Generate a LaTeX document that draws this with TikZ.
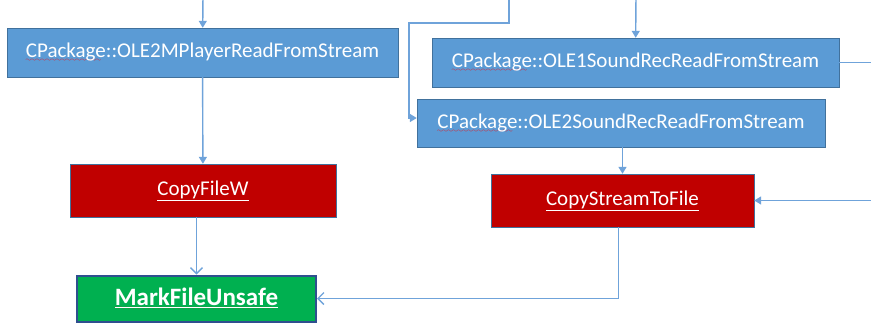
\documentclass[tikz,border=0pt]{standalone}
\usepackage{fontspec}
\setmainfont{Carlito}
\usepackage{tikz}
\usetikzlibrary{arrows.meta}

\definecolor{boxblue}{HTML}{5B9BD5}
\definecolor{edgeblue}{HTML}{41719C}
\definecolor{boxred}{HTML}{C00000}
\definecolor{boxgreen}{HTML}{00B050}
\definecolor{darkedge}{HTML}{2F4F8F}
\definecolor{linkline}{HTML}{6FA3DA}

\font\squigfont=lasy6
\newcommand\spellwave[1]{\setbox0\hbox{#1}\rlap{\lower4pt\hbox to\wd0{\color{red}\leaders\hbox{\squigfont\char58}\hfill}}\box0}

\tikzset{
    func/.style={rectangle, draw=edgeblue, fill=boxblue, text=white, font=\fontsize{21}{24}\selectfont, inner sep=0pt},
    hot/.style={rectangle, draw=edgeblue, fill=boxred, text=white, font=\fontsize{21}{24}\selectfont, inner sep=0pt},
    flow/.style={draw=linkline, line width=1.4pt, -{Triangle[length=7pt, width=8pt]}},
    flowopen/.style={draw=linkline, line width=1.4pt, -{Straight Barb[length=6pt, width=12pt]}}
}

\begin{document}
\begin{tikzpicture}[x=1pt, y=-1pt]
    \useasboundingbox (0, 0) rectangle (871, 325);
    \node[func, minimum width=391pt, minimum height=49pt] (mplayer) at (202.5, 52.5) {\spellwave{CPackage}::OLE2MPlayerReadFromStream};
    \node[func, minimum width=407pt, minimum height=49pt] (snd1) at (635.5, 62.5) {\spellwave{CPackage}::OLE1SoundRecReadFromStream};
    \node[func, minimum width=408pt, minimum height=48pt] (snd2) at (621, 123) {\spellwave{CPackage}::OLE2SoundRecReadFromStream};
    \node[hot, minimum width=266pt, minimum height=53pt] (copyw) at (203, 190.5) {\underline{CopyFileW}};
    \node[hot, minimum width=263pt, minimum height=53pt] (copys) at (622.5, 200.5) {\underline{CopyStreamToFile}};
    \node[rectangle, draw=darkedge, line width=2pt, fill=boxgreen, text=white, inner sep=0pt,
          minimum width=239pt, minimum height=46pt, font=\fontsize{25}{28}\selectfont\bfseries]
          (unsafe) at (196.5, 298.5) {\spellwave{\underline{MarkFileUnsafe}}};

    % free ends above the picture
    \coordinate (inA) at (203, -5);
    \coordinate (inB) at (636, -5);
    \coordinate (inC) at (509, -5);

    \draw[flow] (inA) -- (mplayer);
    \draw[flow] (inB) -- (snd1);
    \draw[flow] (inC) -- (509, 23) -- (409, 23) |- ([yshift=5pt]snd2.west);
    \draw[flow] (mplayer) -- (copyw);
    \draw[flow] (snd2.south -| copys.north) -- (copys.north);
    \draw[flow] (snd1.east) -- ++(45, 0) |- (copys.east);
    \draw[flowopen] (unsafe.north |- copyw.south) -- (unsafe.north);
    \draw[flowopen] ([xshift=-4pt]copys.south) |- (unsafe.east);
\end{tikzpicture}
\end{document}
